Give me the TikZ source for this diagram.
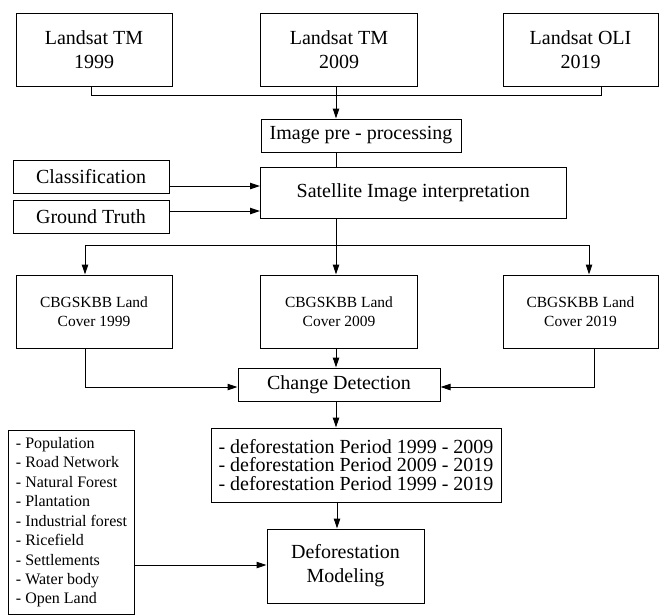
\documentclass[tikz,border=0pt]{standalone}
\usepackage{fontspec}
\setmainfont{Liberation Serif}
\usetikzlibrary{arrows.meta}
\begin{document}
\begin{tikzpicture}[x=0.75pt,y=-0.75pt,
  box/.style={draw, line width=0.75pt, inner sep=0pt, align=center,
    font=\fontsize{15pt}{18pt}\selectfont},
  smalltxt/.style={font=\fontsize{11.6pt}{14.3pt}\selectfont},
  listtxt/.style={align=left, font=\fontsize{12pt}{14.6pt}\selectfont},
  periodtxt/.style={align=left, font=\fontsize{15pt}{13.6pt}\selectfont},
  conn/.style={line width=0.75pt},
  arr/.style={conn, -{Triangle[length=7.5pt,width=4.8pt]}}]
\useasboundingbox (0,0) rectangle (659,615);

% top row
\node[box, minimum width=156*0.75pt, minimum height=73*0.75pt] (L1) at (94,49.5) {Landsat TM\\1999};
\node[box, minimum width=157.5*0.75pt, minimum height=73*0.75pt] (L2) at (339,49.5) {Landsat TM\\2009};
\node[box, minimum width=155*0.75pt, minimum height=73*0.75pt] (L3) at (580.5,49.5) {Landsat OLI\\2019};

\node[box, minimum width=200*0.75pt, minimum height=33*0.75pt] (pre) at (361,135.5) {Image pre - processing};
\node[box, minimum width=305.5*0.75pt, minimum height=51*0.75pt] (sat) at (413.25,192.5) {Satellite Image interpretation};
\node[box, minimum width=156*0.75pt, minimum height=33*0.75pt] (cls) at (91,176.5) {Classification};
\node[box, minimum width=156*0.75pt, minimum height=33*0.75pt] (gt) at (91,216.5) {Ground Truth};

% land cover row
\node[box, smalltxt, minimum width=156*0.75pt, minimum height=73*0.75pt] (cb1) at (94,311.5) {CBGSKBB Land\\Cover 1999};
\node[box, smalltxt, minimum width=157.5*0.75pt, minimum height=73*0.75pt] (cb2) at (339,311.5) {CBGSKBB Land\\Cover 2009};
\node[box, smalltxt, minimum width=155*0.75pt, minimum height=73*0.75pt] (cb3) at (580.5,311.5) {CBGSKBB Land\\Cover 2019};

\node[box, minimum width=202*0.75pt, minimum height=33*0.75pt] (cd) at (339,384.5) {Change Detection};
\node[box, periodtxt, minimum width=290*0.75pt, minimum height=74*0.75pt] (def) at (356,465)
  {- deforestation Period 1999 - 2009\\- deforestation Period 2009 - 2019\\- deforestation Period 1999 - 2019};
\node[box, minimum width=157*0.75pt, minimum height=74*0.75pt] (mod) at (345.5,566) {Deforestation\\Modeling};
\node[box, listtxt, minimum width=126*0.75pt, minimum height=184.5*0.75pt] (lst) at (71.5,522.25)
  {- Population\\- Road Network\\- Natural Forest\\- Plantation\\- Industrial forest\\- Ricefield\\- Settlements\\- Water body\\- Open Land};

% helper coordinates
\coordinate (j1) at (91,95);
\coordinate (j2) at (336,95);
\coordinate (j3) at (601,95);
\coordinate (ya) at (0,186);
\coordinate (yb) at (0,211);
\coordinate (b1) at (85,245);
\coordinate (b2) at (336,245);
\coordinate (b3) at (589,245);
\coordinate (c1) at (85,387);
\coordinate (c3) at (594.5,387);
\coordinate (m) at (337,0);
\coordinate (ym) at (0,565);

% connectors
\draw[conn] (L1.south -| j1) -- (j1) -- (j3) -- (L3.south -| j3);
\draw[arr] (L2.south -| j2) -- (pre.north -| j2);
\draw[conn] (pre.south -| j2) -- (sat.north -| j2);
\draw[arr] (cls.east |- ya) -- (sat.west |- ya);
\draw[arr] (gt.east |- yb) -- (sat.west |- yb);
\draw[conn] (sat.south -| b2) -- (b2);
\draw[conn] (b1) -- (b3);
\draw[arr] (b1) -- (cb1.north -| b1);
\draw[arr] (b2) -- (cb2.north -| b2);
\draw[arr] (b3) -- (cb3.north -| b3);
\draw[arr] (cb1.south -| c1) -- (c1) -- (cd.west |- c1);
\draw[arr] (cb3.south -| c3) -- (c3) -- (cd.east |- c3);
\draw[arr] (cb2.south -| j2) -- (cd.north -| j2);
\draw[arr] (cd.south -| j2) -- (def.north -| j2);
\draw[arr] (def.south -| m) -- (mod.north -| m);
\draw[arr] (lst.east |- ym) -- (mod.west |- ym);
\end{tikzpicture}
\end{document}
